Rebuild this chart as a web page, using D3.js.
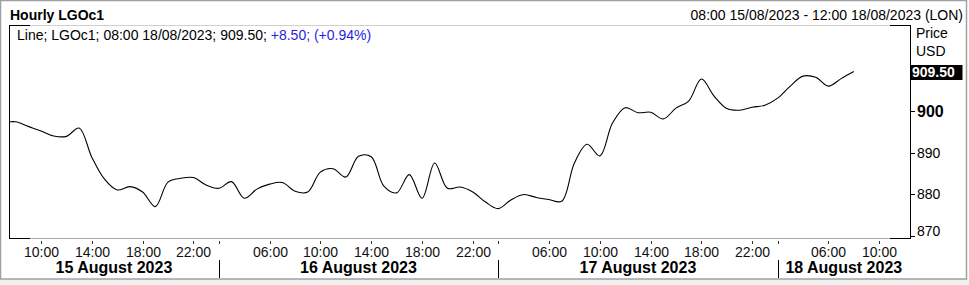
<!DOCTYPE html>
<html>
<head>
<meta charset="utf-8">
<script src="https://cdn.jsdelivr.net/npm/d3@7"></script>
<style>
  html, body { margin: 0; padding: 0; background: #fff; }
  svg { display: block; font-family: Arial, "Liberation Sans", sans-serif; }
</style>
</head>
<body>
<div id="chart"></div>
<script>
// hourly closes, one array per trading day (first slot of 15/08 is 07:00, then 02:00 onwards)
const days = ['15 August 2023', '16 August 2023', '17 August 2023', '18 August 2023'];
const dayHours = [d3.range(7, 24), d3.range(2, 24), d3.range(2, 24), d3.range(2, 13)];
const price15 = [897.2, 897.4, 896.3, 895.2, 894.0, 893.9, 895.9, 888.9, 883.6, 881.0, 881.8, 880.5, 877.0, 882.9, 883.8, 884.0, 882.2];
const price16 = [881.4, 883.0, 879.0, 881.2, 882.4, 882.8, 880.7, 880.5, 885.3, 886.1, 884.1, 889.1, 889.0, 881.9, 880.3, 884.7, 879.0, 887.5, 881.4, 881.7, 880.5, 878.1];
const price17 = [876.5, 878.6, 879.9, 879.2, 878.7, 878.3, 887.5, 892.0, 889.2, 897.1, 900.8, 899.6, 899.7, 898.1, 900.7, 902.4, 907.7, 903.6, 900.6, 900.2, 900.9, 901.4];
const price18 = [903.1, 906.0, 908.4, 908.1, 906.0, 907.8, 909.5];
const tickHours = [[10, 14, 18, 22], [6, 10, 14, 18, 22], [6, 10, 14, 18, 22], [6, 10]];
const yTicks = [870, 880, 890, 900];
const lastPrice = '909.50';
const title = 'Hourly LGOc1';
const rangeText = '08:00 15/08/2023 - 12:00 18/08/2023 (LON)';
const legendMain = 'Line; LGOc1; 08:00 18/08/2023; 909.50; ';
const legendChange = '+8.50; (+0.94%)';

const W = 969, H = 285;
const pLeft = 9, pRight = 910, pTop = 25, pBottom = 239;

// slots of the trading-hour axis
const slots = [];
dayHours.forEach((hs, d) => hs.forEach(h => slots.push({ day: d, hour: h, i: slots.length })));
const slotIndex = (d, h) => slots.find(s => s.day === d && s.hour === h).i;

const prices = [price15, price16, price17, price18];
const data = [];
prices.forEach((arr, d) => arr.forEach((v, k) => data.push({ i: slotIndex(d, dayHours[d][k]), v })));

const x = d3.scaleLinear()
    .domain([slotIndex(0, 8), slotIndex(3, 12)])
    .range([15.6, 904.6]);
const y = d3.scaleLinear()
    .domain([869.2, 920.7])
    .range([pBottom, pTop]);

const svg = d3.select('#chart').append('svg')
    .attr('width', W).attr('height', H);

// outer frame
svg.append('rect').attr('x', 0).attr('y', 0).attr('width', W).attr('height', H).attr('fill', '#fff');
svg.append('rect').attr('x', 0).attr('y', 279).attr('width', W).attr('height', 6).attr('fill', '#f0f0f0');
svg.append('rect').attr('x', 0.5).attr('y', 0.5).attr('width', 966).attr('height', 278.5)
    .attr('fill', 'none').attr('stroke', '#a0a0a0').attr('stroke-width', 1.5);

// plot frame
const frame = svg.append('g');
frame.append('line').attr('x1', pLeft).attr('x2', pRight).attr('y1', pTop + 0.5).attr('y2', pTop + 0.5).attr('stroke', '#d0d0d0');
frame.append('line').attr('x1', pLeft).attr('x2', pRight).attr('y1', pBottom - 0.5).attr('y2', pBottom - 0.5).attr('stroke', '#a8a8a8');
[[pLeft, pTop + 0.5, pLeft + 21, pTop + 0.5], [pRight - 20, pTop + 0.5, pRight, pTop + 0.5],
 [pLeft, pBottom - 0.5, pLeft + 21, pBottom - 0.5], [pRight - 20, pBottom - 0.5, pRight, pBottom - 0.5],
 [pLeft + 0.5, pTop, pLeft + 0.5, pBottom], [pRight + 0.5, pTop, pRight + 0.5, pBottom]]
    .forEach(s => frame.append('line').attr('x1', s[0]).attr('y1', s[1]).attr('x2', s[2]).attr('y2', s[3]).attr('stroke', '#000'));

// line
svg.append('clipPath').attr('id', 'clip').append('rect')
    .attr('x', pLeft + 1).attr('y', pTop + 1).attr('width', pRight - pLeft - 1).attr('height', pBottom - pTop - 2);
svg.append('path')
    .datum(data)
    .attr('clip-path', 'url(#clip)')
    .attr('fill', 'none')
    .attr('stroke', '#000')
    .attr('stroke-width', 1.1)
    .attr('d', d3.line().x(d => x(d.i)).y(d => y(d.v)).curve(d3.curveCatmullRom.alpha(0.5)));

// right axis
const ya = svg.append('g');
yTicks.forEach(t => {
    const ty = Math.round(y(t)) + 0.5;
    ya.append('line').attr('x1', pRight).attr('x2', pRight + 5).attr('y1', ty).attr('y2', ty).attr('stroke', '#000');
    ya.append('text').attr('x', 917).attr('y', Math.min(ty, 231)).attr('dy', '0.35em')
        .attr('font-size', t === 900 ? 16 : 14).attr('font-weight', t === 900 ? 'bold' : 'normal')
        .attr('fill', '#000').text(t);
});
svg.append('text').attr('x', 916).attr('y', 38).attr('font-size', 14).text('Price');
svg.append('text').attr('x', 916).attr('y', 56).attr('font-size', 14).text('USD');
const ly = y(+lastPrice);
svg.append('rect').attr('x', pRight + 0.5).attr('y', Math.round(ly) - 7).attr('width', 52).attr('height', 15).attr('fill', '#000');
svg.append('text').attr('x', 912).attr('y', ly + 0.5).attr('dy', '0.35em').attr('font-size', 14)
    .attr('font-weight', 'bold').attr('fill', '#fff').text(lastPrice);

// bottom axis
const xa = svg.append('g');
tickHours.forEach((hs, d) => hs.forEach(h => {
    const tx = Math.round(x(slotIndex(d, h))) + 0.5;
    xa.append('line').attr('x1', tx).attr('x2', tx).attr('y1', 241).attr('y2', 244).attr('stroke', '#333');
    xa.append('text').attr('x', tx).attr('y', 256.5).attr('text-anchor', 'middle')
        .attr('font-size', 14).attr('fill', '#111').text(d3.format('02')(h) + ':00');
}));
const seps = [1, 2, 3].map(d => x(slotIndex(d, 2)));
seps.forEach(sx => {
    const tx = Math.round(sx) + 0.5;
    xa.append('line').attr('x1', tx).attr('x2', tx).attr('y1', 241).attr('y2', 244).attr('stroke', '#333');
    xa.append('line').attr('x1', tx).attr('x2', tx).attr('y1', 260).attr('y2', 278).attr('stroke', '#000');
});
const bounds = [pLeft, ...seps, pRight];
days.forEach((name, d) => {
    xa.append('text').attr('x', (bounds[d] + bounds[d + 1]) / 2).attr('y', 272.5)
        .attr('text-anchor', 'middle').attr('font-size', 16).attr('font-weight', 'bold')
        .attr('fill', '#000').text(name);
});

// titles and legend
svg.append('text').attr('x', 10).attr('y', 19.5).attr('font-size', 14).attr('font-weight', 'bold').text(title);
svg.append('text').attr('x', 963).attr('y', 19.5).attr('font-size', 14).attr('text-anchor', 'end').text(rangeText);
const leg = svg.append('text').attr('x', 17).attr('y', 39.5).attr('font-size', 14).attr('xml:space', 'preserve');
leg.append('tspan').attr('fill', '#000').text(legendMain);
leg.append('tspan').attr('fill', '#1f1fe0').text(legendChange);
</script>
</body>
</html>
